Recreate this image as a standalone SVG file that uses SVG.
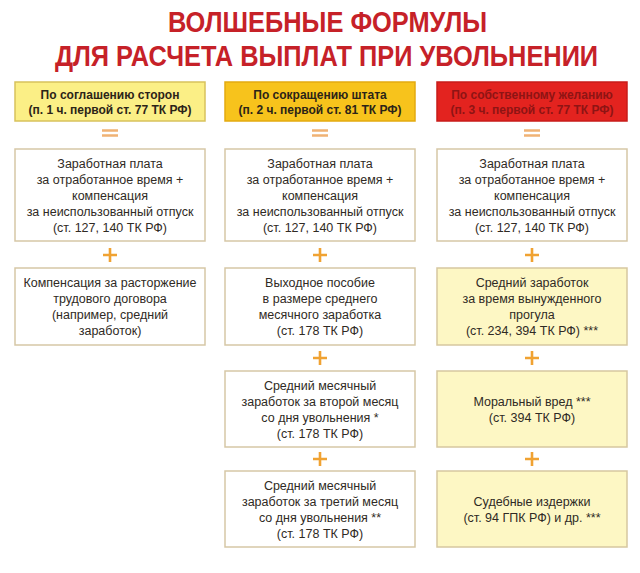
<svg xmlns="http://www.w3.org/2000/svg" width="640" height="573" viewBox="0 0 640 573">
<style>
.title{font-family:"Liberation Sans",Arial,sans-serif;font-weight:bold;font-size:29px;fill:#c62128;text-anchor:middle}
.hd{font-family:"Liberation Sans",Arial,sans-serif;font-weight:bold;font-size:12px;fill:#2b2418;text-anchor:middle}
.hdr{fill:#8e1414}
.t{font-family:"Liberation Sans",Arial,sans-serif;font-size:12.5px;fill:#2f2a24;text-anchor:middle}
.box{fill:#ffffff;stroke:#d6c7a6;stroke-width:1.5}
.ybox{fill:#fdf7c4;stroke:#d6c7a0;stroke-width:1.5}
.eq{stroke:#f0b274;stroke-width:2.6;fill:none}
.pl{stroke:#f0a232;stroke-width:2.6;fill:none}
</style>
<rect width="640" height="573" fill="#ffffff"/>
<g id="title">
<text class="title" transform="translate(327.5 32) scale(0.8 1)" x="0" y="0" textLength="399" lengthAdjust="spacingAndGlyphs">ВОЛШЕБНЫЕ ФОРМУЛЫ</text>
<text class="title" transform="translate(326.5 66) scale(0.8 1)" x="0" y="0" textLength="679" lengthAdjust="spacingAndGlyphs">ДЛЯ РАСЧЕТА ВЫПЛАТ ПРИ УВОЛЬНЕНИИ</text>
</g>
<g id="h1">
<rect x="15" y="82" width="190" height="39" fill="#fbef86" stroke="#d8c25c" stroke-width="1.5"/>
<text class="hd" x="110" y="99">По соглашению сторон</text>
<text class="hd" x="110" y="114">(п. 1 ч. первой ст. 77 ТК РФ)</text>
</g>
<g id="h2">
<rect x="225" y="82" width="190" height="39" fill="#f7c31c" stroke="#e3aa10" stroke-width="1.5"/>
<text class="hd" x="320" y="99">По сокращению штата</text>
<text class="hd" x="320" y="114">(п. 2 ч. первой ст. 81 ТК РФ)</text>
</g>
<g id="h3">
<rect x="437" y="82" width="190" height="39" fill="#e3231f" stroke="#c81c1a" stroke-width="1.5"/>
<text class="hd hdr" x="532" y="99">По собственному желанию</text>
<text class="hd hdr" x="532" y="114">(п. 3 ч. первой ст. 77 ТК РФ)</text>
</g>
<g id="c1r1">
<rect class="box" x="15" y="149" width="190" height="92"/>
<text class="t" x="110" y="167.5">Заработная плата</text>
<text class="t" x="110" y="183.5">за отработанное время +</text>
<text class="t" x="110" y="199.5">компенсация</text>
<text class="t" x="110" y="215.5">за неиспользованный отпуск</text>
<text class="t" x="110" y="231.5">(ст. 127, 140 ТК РФ)</text>
</g>
<g id="c2r1">
<rect class="box" x="225" y="149" width="190" height="92"/>
<text class="t" x="320" y="167.5">Заработная плата</text>
<text class="t" x="320" y="183.5">за отработанное время +</text>
<text class="t" x="320" y="199.5">компенсация</text>
<text class="t" x="320" y="215.5">за неиспользованный отпуск</text>
<text class="t" x="320" y="231.5">(ст. 127, 140 ТК РФ)</text>
</g>
<g id="c3r1">
<rect class="box" x="437" y="149" width="190" height="92"/>
<text class="t" x="532" y="167.5">Заработная плата</text>
<text class="t" x="532" y="183.5">за отработанное время +</text>
<text class="t" x="532" y="199.5">компенсация</text>
<text class="t" x="532" y="215.5">за неиспользованный отпуск</text>
<text class="t" x="532" y="231.5">(ст. 127, 140 ТК РФ)</text>
</g>
<g id="c1r2">
<rect class="box" x="15" y="268" width="190" height="77"/>
<text class="t" x="110" y="287">Компенсация за расторжение</text>
<text class="t" x="110" y="303">трудового договора</text>
<text class="t" x="110" y="319">(например, средний</text>
<text class="t" x="110" y="335">заработок)</text>
</g>
<g id="c2r2">
<rect class="box" x="225" y="268" width="190" height="77"/>
<text class="t" x="320" y="287">Выходное пособие</text>
<text class="t" x="320" y="303">в размере среднего</text>
<text class="t" x="320" y="319">месячного заработка</text>
<text class="t" x="320" y="335">(ст. 178 ТК РФ)</text>
</g>
<g id="c3r2">
<rect class="ybox" x="437" y="268" width="190" height="77"/>
<text class="t" x="532" y="287">Средний заработок</text>
<text class="t" x="532" y="303">за время вынужденного</text>
<text class="t" x="532" y="319">прогула</text>
<text class="t" x="532" y="335">(ст. 234, 394 ТК РФ) ***</text>
</g>
<g id="c2r3">
<rect class="box" x="225" y="371" width="190" height="76"/>
<text class="t" x="320" y="389.5">Средний месячный</text>
<text class="t" x="320" y="405.5">заработок за второй месяц</text>
<text class="t" x="320" y="421.5">со дня увольнения *</text>
<text class="t" x="320" y="437.5">(ст. 178 ТК РФ)</text>
</g>
<g id="c3r3">
<rect class="ybox" x="437" y="371" width="190" height="76"/>
<text class="t" x="532" y="405.5">Моральный вред ***</text>
<text class="t" x="532" y="421.5">(ст. 394 ТК РФ)</text>
</g>
<g id="c2r4">
<rect class="box" x="225" y="471" width="190" height="76"/>
<text class="t" x="320" y="489.5">Средний месячный</text>
<text class="t" x="320" y="505.5">заработок за третий месяц</text>
<text class="t" x="320" y="521.5">со дня увольнения **</text>
<text class="t" x="320" y="537.5">(ст. 178 ТК РФ)</text>
</g>
<g id="c3r4">
<rect class="ybox" x="437" y="471" width="190" height="76"/>
<text class="t" x="532" y="505.5">Судебные издержки</text>
<text class="t" x="532" y="521.5">(ст. 94 ГПК РФ) и др. ***</text>
</g>
<g id="connectors">
<path class="eq" d="M102 130.5h16M102 135.5h16M312 130.5h16M312 135.5h16M524 130.5h16M524 135.5h16"/>
<path class="pl" d="M103 255h14M110 248v14M313 255h14M320 248v14M525 255h14M532 248v14"/>
<path class="pl" d="M313 358h14M320 351v14M525 358h14M532 351v14"/>
<path class="pl" d="M313 459h14M320 452v14M525 459h14M532 452v14"/>
</g>
</svg>
